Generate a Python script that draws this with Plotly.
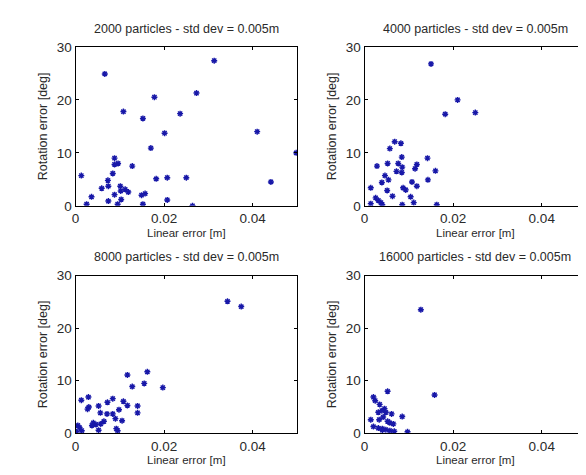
import plotly.graph_objects as go

titles = ["2000 particles - std dev = 0.005m", "4000 particles - std dev = 0.005m",
          "8000 particles - std dev = 0.005m", "16000 particles - std dev = 0.005m"]

x1 = [0.0013, 0.0066, 0.0313, 0.0178, 0.0273, 0.0108, 0.0152, 0.0236, 0.0201, 0.041, 0.0498, 0.0441,
      0.0170, 0.0128, 0.0088, 0.0096, 0.0088, 0.0084, 0.0073, 0.0074, 0.0059, 0.0036, 0.0025, 0.0074,
      0.0088, 0.0095, 0.0101, 0.0102, 0.0112, 0.0119, 0.0149, 0.0157, 0.0152, 0.0182, 0.0207, 0.025,
      0.0207, 0.0264, 0.0103]
y1 = [5.7, 24.9, 27.4, 20.5, 21.3, 17.8, 16.5, 17.4, 13.7, 14.0, 10.0, 4.5,
      10.9, 7.5, 9.0, 8.0, 7.8, 6.1, 4.8, 3.7, 3.3, 1.7, 0.3, 0.9,
      2.1, 0.3, 3.7, 2.8, 3.1, 2.6, 2.0, 2.3, 0.3, 5.1, 5.3, 5.3,
      1.1, 0.0, 1.2]

x2 = [0.0150, 0.0210, 0.0182, 0.0250, 0.0068, 0.0082, 0.0057, 0.0084, 0.0142, 0.0052, 0.0028, 0.0076,
      0.0085, 0.0072, 0.0084, 0.0118, 0.0114, 0.0160, 0.0046, 0.0054, 0.0039, 0.0107, 0.0143, 0.0118,
      0.0087, 0.0093, 0.0051, 0.0014, 0.0063, 0.0104, 0.0025, 0.0031, 0.0037, 0.0014, 0.0085, 0.0111,
      0.0163, 0.0040]
y2 = [26.8, 20.0, 17.3, 17.6, 12.1, 11.8, 10.8, 9.2, 9.0, 8.0, 7.5, 8.0,
      7.3, 6.5, 6.3, 7.8, 7.0, 6.6, 5.7, 4.9, 4.4, 4.5, 4.9, 3.7,
      3.4, 3.0, 2.9, 3.4, 1.8, 1.7, 1.5, 1.0, 0.6, 0.4, 0.2, 0.6,
      0.2, 0.2]

x3 = [0.0343, 0.0374, 0.0162, 0.0117, 0.0155, 0.0128, 0.0197, 0.0029, 0.0013, 0.0084, 0.0108, 0.0072,
      0.0117, 0.0030, 0.0052, 0.0027, 0.0140, 0.0140, 0.0098, 0.0056, 0.0071, 0.0084, 0.0040, 0.0046,
      0.0037, 0.0064, 0.0057, 0.0090, 0.0105, 0.0005, 0.0009, 0.0014, 0.0002, 0.0052, 0.0092, 0.0095]
y3 = [25.1, 24.1, 11.7, 11.1, 9.5, 8.9, 8.7, 6.9, 6.3, 6.6, 6.1, 5.9,
      5.3, 5.0, 5.2, 4.6, 5.2, 3.9, 4.5, 3.9, 3.7, 3.7, 2.0, 1.7,
      1.5, 2.3, 1.8, 2.8, 2.4, 1.5, 1.1, 0.5, 0.3, 0.6, 0.9, 0.5]

x4 = [0.0127, 0.0158, 0.0052, 0.0020, 0.0024, 0.0034, 0.0045, 0.0031, 0.0039, 0.0048, 0.0061, 0.0085,
      0.0042, 0.0014, 0.0033, 0.0052, 0.0057, 0.0065, 0.0020, 0.0031, 0.0040, 0.0048, 0.0057, 0.0067,
      0.0097, 0.0040]
y4 = [23.5, 7.3, 8.0, 6.9, 6.2, 5.5, 4.7, 4.0, 4.3, 4.0, 3.7, 3.2,
      3.1, 2.6, 2.6, 2.3, 2.0, 1.8, 1.3, 1.0, 0.9, 0.7, 0.5, 0.4,
      0.3, 0.6]

x_ticks = [0, 0.02, 0.04]
x_tick_labels = ["0", "0.02", "0.04"]
y_ticks = [0, 10, 20, 30]
y_tick_labels = ["0", "10", "20", "30"]
x_title = "Linear error [m]"
y_title = "Rotation error [deg]"

W, H = 586, 475
FONT = "Liberation Sans"
TXT = "#2a2a2a"
MK = "#1818a8"

# pixel boxes (left, right, top, bottom)
boxes = [(64, 287, 33, 197), (355, 578, 33, 197), (64, 287, 269, 432), (355, 578, 269, 432)]
data = [(x1, y1), (x2, y2), (x3, y3), (x4, y4)]

fig = go.Figure()
layout = dict(width=W, height=H, margin=dict(l=0, r=0, t=0, b=0),
              paper_bgcolor="white", plot_bgcolor="white", showlegend=False,
              font=dict(family=FONT, color=TXT))
annotations = []
for i, ((xs, ys), (l, r, t, b), title) in enumerate(zip(data, boxes, titles)):
    n = "" if i == 0 else str(i + 1)
    fig.add_trace(go.Scatter(x=xs, y=ys, mode="markers", xaxis="x" + n, yaxis="y" + n,
                             marker=dict(symbol="asterisk-open", size=5, color=MK,
                                         line=dict(color=MK, width=1.4))))
    axcommon = dict(showgrid=False, zeroline=False, showline=True, linecolor="black", linewidth=1,
                    mirror="allticks", ticks="inside", ticklen=3, tickcolor="black",
                    tickfont=dict(family=FONT, size=13.5, color=TXT))
    layout["xaxis" + n] = dict(axcommon, domain=[l / W, r / W], anchor="y" + n,
                               range=[0, 0.05], tickvals=x_ticks, ticktext=x_tick_labels,
                               title=dict(text=x_title, font=dict(size=11.5, color=TXT), standoff=3))
    layout["yaxis" + n] = dict(axcommon, domain=[1 - b / H, 1 - t / H], anchor="x" + n,
                               range=[0, 30], tickvals=y_ticks, ticktext=y_tick_labels,
                               title=dict(text=y_title, font=dict(size=12.5, color=TXT), standoff=6))
    annotations.append(dict(text=title, x=(l + r) / 2 / W, y=1 - (t - 19) / H, xref="paper", yref="paper",
                            xanchor="center", yanchor="middle", showarrow=False,
                            font=dict(family=FONT, size=12.5, color=TXT)))
layout["annotations"] = annotations
fig.update_layout(**layout)
fig.write_html("out.html")
